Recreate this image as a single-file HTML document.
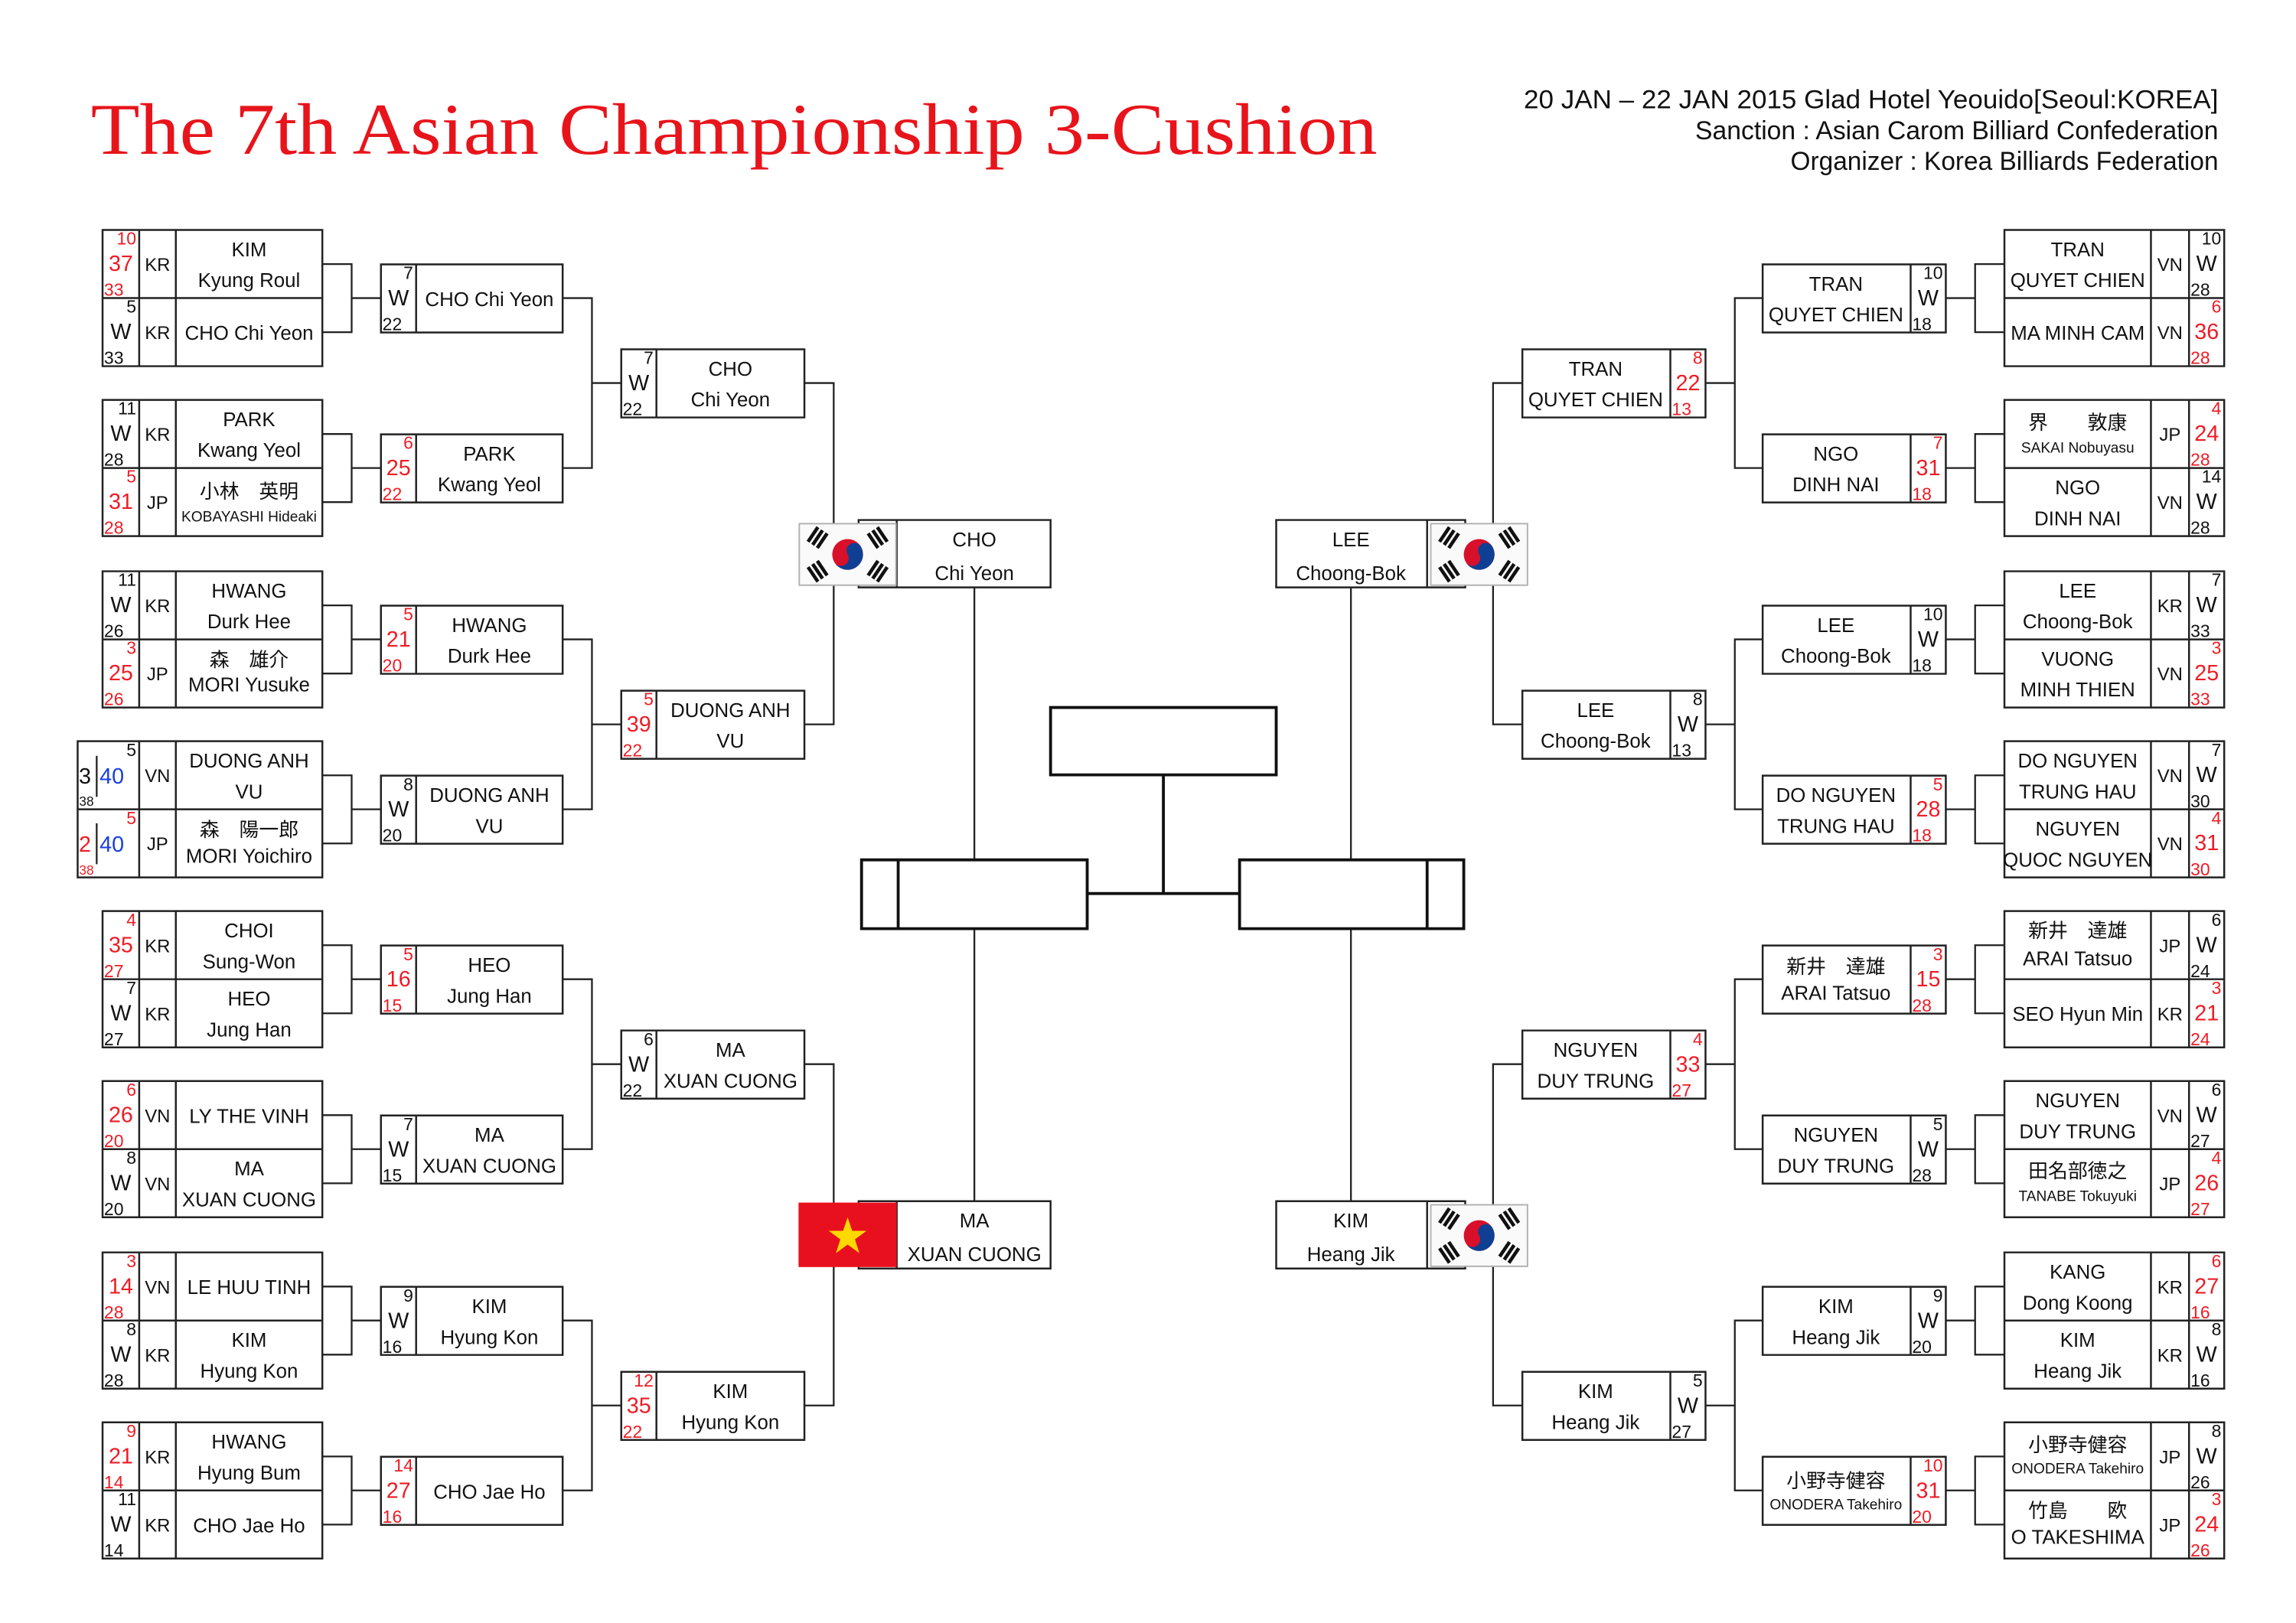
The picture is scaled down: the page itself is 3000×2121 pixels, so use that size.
<!DOCTYPE html>
<html><head><meta charset="utf-8"><style>
html,body{margin:0;padding:0;background:#fff}
svg{display:block}
text{font-family:"Liberation Sans","Noto Sans CJK JP",sans-serif;fill:#111}
.bx{fill:none;stroke:#222;stroke-width:1.3}
.ln{fill:none;stroke:#222;stroke-width:1.2}
.tk{fill:none;stroke:#111;stroke-width:2}
.tn{font-size:12px;text-anchor:end}
.mn{font-size:15px;text-anchor:middle}
.bn{font-size:12px}
.cc{font-size:12.5px;text-anchor:middle}
.nm{font-size:13.5px;text-anchor:middle}
.sm{font-size:10px;text-anchor:middle}
.red text,text.red{fill:#ee1c25}
</style></head><body>
<svg width="3000" height="2121" viewBox="0 0 1567 1108" preserveAspectRatio="none" xmlns="http://www.w3.org/2000/svg">
<defs>
<g id="kr">
<rect x="0.5" y="0.5" width="66" height="42" fill="#fafafa" stroke="#b0b0b0" stroke-width="1"/>
<g transform="translate(33.5,21.5) rotate(-30)">
<circle r="10.5" fill="#d8102a"/>
<path d="M-10.5 0A10.5 10.5 0 0 0 10.5 0A5.25 5.25 0 0 0 0 0A5.25 5.25 0 0 1 -10.5 0Z" fill="#0f3f93"/>
</g>
<g fill="#111">
<g transform="translate(13,10) rotate(-56)"><path d="M-6 -5h12v2.4h-12z M-6 -1.2h12v2.4h-12z M-6 2.6h12v2.4h-12z"/></g>
<g transform="translate(54,10) rotate(56)"><path d="M-6 -5h12v2.4h-12z M-6 -1.2h12v2.4h-12z M-6 2.6h12v2.4h-12z"/></g>
<g transform="translate(13,33) rotate(56)"><path d="M-6 -5h12v2.4h-12z M-6 -1.2h12v2.4h-12z M-6 2.6h12v2.4h-12z"/></g>
<g transform="translate(54,33) rotate(-56)"><path d="M-6 -5h12v2.4h-12z M-6 -1.2h12v2.4h-12z M-6 2.6h12v2.4h-12z"/></g>
</g>
</g>
</defs>

<!-- header -->
<text x="62" y="105" font-size="50" textLength="878" lengthAdjust="spacingAndGlyphs" style="font-family:'Liberation Serif','Noto Serif CJK SC',serif;fill:#e8141b">The 7th Asian Championship 3-Cushion</text>
<text x="1040" y="74" font-size="18" textLength="474" lengthAdjust="spacingAndGlyphs">20 JAN – 22 JAN 2015  Glad Hotel Yeouido[Seoul:KOREA]</text>
<text x="1157" y="95" font-size="18" textLength="357" lengthAdjust="spacingAndGlyphs">Sanction : Asian Carom Billiard Confederation</text>
<text x="1222" y="116" font-size="18" textLength="292" lengthAdjust="spacingAndGlyphs">Organizer : Korea Billiards Federation</text>

<!-- connectors left -->
<path class="ln" d="
M220 180.3H240V226.8H220M240 203.5H260
M220 296.3H240V342.8H220M240 319.5H260
M220 413.3H240V459.8H220M240 436.5H260
M220 529.3H240V575.8H220M240 552.5H260
M220 645.3H240V691.8H220M240 668.5H260
M220 761.3H240V807.8H220M240 784.5H260
M220 878.3H240V924.8H220M240 901.5H260
M220 994.3H240V1040.8H220M240 1017.5H260
M384 203.5H404V319.5H384M404 261.5H424
M384 436.5H404V552.5H384M404 494.5H424
M384 668.5H404V784.5H384M404 726.5H424
M384 901.5H404V1017.5H384M404 959.5H424
M549 261.5H569V494.5H549
M549 726.5H569V959.5H549
M665 401V587M665 634V820
"/>
<!-- connectors right -->
<path class="ln" d="
M1368 180.3H1348V226.8H1368M1348 203.5H1328
M1368 296.3H1348V342.8H1368M1348 319.5H1328
M1368 413.3H1348V459.8H1368M1348 436.5H1328
M1368 529.3H1348V575.8H1368M1348 552.5H1328
M1368 645.3H1348V691.8H1368M1348 668.5H1328
M1368 761.3H1348V807.8H1368M1348 784.5H1328
M1368 878.3H1348V924.8H1368M1348 901.5H1328
M1368 994.3H1348V1040.8H1368M1348 1017.5H1328
M1203 203.5H1184V319.5H1203M1184 261.5H1164
M1203 436.5H1184V552.5H1203M1184 494.5H1164
M1203 668.5H1184V784.5H1203M1184 726.5H1164
M1203 901.5H1184V1017.5H1203M1184 959.5H1164
M1039 261.5H1019V494.5H1039
M1039 726.5H1019V959.5H1039
M922 401V587M922 634V820
"/>

<!-- center -->
<path class="tk" d="M717 483H871V529H717Z M794 529V610 M742 610H846 M588 587H742V634H588Z M613 587V634 M846 587H999V634H846Z M974 587V634"/>

<!-- R4 left -->
<path class="bx" d="M586 355H717V401H586Z M612 355V401 M586 820H717V866H586Z M612 820V866"/>
<use href="#kr" x="545" y="357"/>
<text class="nm" x="665" y="373" font-size="15">CHO</text>
<text class="nm" x="665" y="396" font-size="15">Chi Yeon</text>
<rect x="545" y="821" width="67" height="44" fill="#e8101e"/>
<polygon points="578.5,831 581.6,840.3 591.4,840.3 583.5,846.1 586.5,855.5 578.5,849.7 570.5,855.5 573.5,846.1 565.6,840.3 575.4,840.3" fill="#ffd800"/>
<text class="nm" x="665" y="838" font-size="15">MA</text>
<text class="nm" x="665" y="861" font-size="15">XUAN CUONG</text>

<!-- R4 right -->
<path class="bx" d="M871 355H1000V401H871Z M974 355V401 M871 820H1000V866H871Z M974 820V866"/>
<use href="#kr" x="976" y="357"/>
<use href="#kr" x="976" y="822"/>
<text class="nm" x="922" y="373" font-size="15">LEE</text>
<text class="nm" x="922" y="396" font-size="15">Choong-Bok</text>
<text class="nm" x="922" y="838" font-size="15">KIM</text>
<text class="nm" x="922" y="861" font-size="15">Heang Jik</text>

<!-- ===== LEFT R1 ===== -->
<g transform="translate(70,157)">
<path class="bx" d="M0 0H150V93H0Z M0 46.5H150 M25 0V93 M50 0V93"/>
<g class="red"><text class="tn" x="23" y="10">10</text><text class="mn" x="12.5" y="28">37</text><text class="bn" x="1" y="45">33</text></g>
<text class="cc" x="37.5" y="28">KR</text><text class="nm" x="100" y="18">KIM</text><text class="nm" x="100" y="39">Kyung Roul</text>
<text class="tn" x="23" y="56.5">5</text><text class="mn" x="12.5" y="74.5">W</text><text class="bn" x="1" y="91.5">33</text>
<text class="cc" x="37.5" y="74.5">KR</text><text class="nm" x="100" y="75">CHO Chi Yeon</text>
</g>
<g transform="translate(70,273)">
<path class="bx" d="M0 0H150V93H0Z M0 46.5H150 M25 0V93 M50 0V93"/>
<text class="tn" x="23" y="10">11</text><text class="mn" x="12.5" y="28">W</text><text class="bn" x="1" y="45">28</text>
<text class="cc" x="37.5" y="28">KR</text><text class="nm" x="100" y="18">PARK</text><text class="nm" x="100" y="39">Kwang Yeol</text>
<g class="red"><text class="tn" x="23" y="56.5">5</text><text class="mn" x="12.5" y="74.5">31</text><text class="bn" x="1" y="91.5">28</text></g>
<text class="cc" x="37.5" y="74.5">JP</text><text class="nm" x="100" y="67">小林　英明</text><text class="sm" x="100" y="83">KOBAYASHI Hideaki</text>
</g>
<g transform="translate(70,390)">
<path class="bx" d="M0 0H150V93H0Z M0 46.5H150 M25 0V93 M50 0V93"/>
<text class="tn" x="23" y="10">11</text><text class="mn" x="12.5" y="28">W</text><text class="bn" x="1" y="45">26</text>
<text class="cc" x="37.5" y="28">KR</text><text class="nm" x="100" y="18">HWANG</text><text class="nm" x="100" y="39">Durk Hee</text>
<g class="red"><text class="tn" x="23" y="56.5">3</text><text class="mn" x="12.5" y="74.5">25</text><text class="bn" x="1" y="91.5">26</text></g>
<text class="cc" x="37.5" y="74.5">JP</text><text class="nm" x="100" y="65">森　雄介</text><text class="nm" x="100" y="82">MORI Yusuke</text>
</g>
<g transform="translate(70,506)">
<path class="bx" d="M-17 0H150V93H-17Z M-17 46.5H150 M25 0V93 M50 0V93"/>
<path class="ln" d="M-4 10V38 M-4 56V84"/>
<text class="tn" x="23" y="10">5</text><text class="mn" x="-12" y="29">3</text><text x="-2" y="29" font-size="15" style="fill:#1a3ee0">40</text><text x="-16" y="44" font-size="9">38</text>
<text class="cc" x="37.5" y="28">VN</text><text class="nm" x="100" y="18">DUONG ANH</text><text class="nm" x="100" y="39">VU</text>
<g class="red"><text class="tn" x="23" y="56.5">5</text><text class="mn" x="-12" y="75.5">2</text><text x="-16" y="91" font-size="9">38</text></g><text x="-2" y="75.5" font-size="15" style="fill:#1a3ee0">40</text>
<text class="cc" x="37.5" y="74.5">JP</text><text class="nm" x="100" y="65">森　陽一郎</text><text class="nm" x="100" y="83">MORI Yoichiro</text>
</g>
<g transform="translate(70,622)">
<path class="bx" d="M0 0H150V93H0Z M0 46.5H150 M25 0V93 M50 0V93"/>
<g class="red"><text class="tn" x="23" y="10">4</text><text class="mn" x="12.5" y="28">35</text><text class="bn" x="1" y="45">27</text></g>
<text class="cc" x="37.5" y="28">KR</text><text class="nm" x="100" y="18">CHOI</text><text class="nm" x="100" y="39">Sung-Won</text>
<text class="tn" x="23" y="56.5">7</text><text class="mn" x="12.5" y="74.5">W</text><text class="bn" x="1" y="91.5">27</text>
<text class="cc" x="37.5" y="74.5">KR</text><text class="nm" x="100" y="64.5">HEO</text><text class="nm" x="100" y="85.5">Jung Han</text>
</g>
<g transform="translate(70,738)">
<path class="bx" d="M0 0H150V93H0Z M0 46.5H150 M25 0V93 M50 0V93"/>
<g class="red"><text class="tn" x="23" y="10">6</text><text class="mn" x="12.5" y="28">26</text><text class="bn" x="1" y="45">20</text></g>
<text class="cc" x="37.5" y="28">VN</text><text class="nm" x="100" y="28.5">LY THE VINH</text>
<text class="tn" x="23" y="56.5">8</text><text class="mn" x="12.5" y="74.5">W</text><text class="bn" x="1" y="91.5">20</text>
<text class="cc" x="37.5" y="74.5">VN</text><text class="nm" x="100" y="64.5">MA</text><text class="nm" x="100" y="85.5">XUAN CUONG</text>
</g>
<g transform="translate(70,855)">
<path class="bx" d="M0 0H150V93H0Z M0 46.5H150 M25 0V93 M50 0V93"/>
<g class="red"><text class="tn" x="23" y="10">3</text><text class="mn" x="12.5" y="28">14</text><text class="bn" x="1" y="45">28</text></g>
<text class="cc" x="37.5" y="28">VN</text><text class="nm" x="100" y="28.5">LE HUU TINH</text>
<text class="tn" x="23" y="56.5">8</text><text class="mn" x="12.5" y="74.5">W</text><text class="bn" x="1" y="91.5">28</text>
<text class="cc" x="37.5" y="74.5">KR</text><text class="nm" x="100" y="64.5">KIM</text><text class="nm" x="100" y="85.5">Hyung Kon</text>
</g>
<g transform="translate(70,971)">
<path class="bx" d="M0 0H150V93H0Z M0 46.5H150 M25 0V93 M50 0V93"/>
<g class="red"><text class="tn" x="23" y="10">9</text><text class="mn" x="12.5" y="28">21</text><text class="bn" x="1" y="45">14</text></g>
<text class="cc" x="37.5" y="28">KR</text><text class="nm" x="100" y="18">HWANG</text><text class="nm" x="100" y="39">Hyung Bum</text>
<text class="tn" x="23" y="56.5">11</text><text class="mn" x="12.5" y="74.5">W</text><text class="bn" x="1" y="91.5">14</text>
<text class="cc" x="37.5" y="74.5">KR</text><text class="nm" x="100" y="75">CHO Jae Ho</text>
</g>

<!-- ===== LEFT R2 ===== -->
<g transform="translate(260,180.5)"><path class="bx" d="M0 0H124V46.5H0Z M24 0V46.5"/>
<text class="tn" x="22" y="10">7</text><text class="mn" x="12" y="28">W</text><text class="bn" x="1" y="45">22</text><text class="nm" x="74" y="28.5">CHO Chi Yeon</text></g>
<g transform="translate(260,296.5)"><path class="bx" d="M0 0H124V46.5H0Z M24 0V46.5"/>
<g class="red"><text class="tn" x="22" y="10">6</text><text class="mn" x="12" y="28">25</text><text class="bn" x="1" y="45">22</text></g><text class="nm" x="74" y="18">PARK</text><text class="nm" x="74" y="39">Kwang Yeol</text></g>
<g transform="translate(260,413.5)"><path class="bx" d="M0 0H124V46.5H0Z M24 0V46.5"/>
<g class="red"><text class="tn" x="22" y="10">5</text><text class="mn" x="12" y="28">21</text><text class="bn" x="1" y="45">20</text></g><text class="nm" x="74" y="18">HWANG</text><text class="nm" x="74" y="39">Durk Hee</text></g>
<g transform="translate(260,529.5)"><path class="bx" d="M0 0H124V46.5H0Z M24 0V46.5"/>
<text class="tn" x="22" y="10">8</text><text class="mn" x="12" y="28">W</text><text class="bn" x="1" y="45">20</text><text class="nm" x="74" y="18">DUONG ANH</text><text class="nm" x="74" y="39">VU</text></g>
<g transform="translate(260,645.5)"><path class="bx" d="M0 0H124V46.5H0Z M24 0V46.5"/>
<g class="red"><text class="tn" x="22" y="10">5</text><text class="mn" x="12" y="28">16</text><text class="bn" x="1" y="45">15</text></g><text class="nm" x="74" y="18">HEO</text><text class="nm" x="74" y="39">Jung Han</text></g>
<g transform="translate(260,761.5)"><path class="bx" d="M0 0H124V46.5H0Z M24 0V46.5"/>
<text class="tn" x="22" y="10">7</text><text class="mn" x="12" y="28">W</text><text class="bn" x="1" y="45">15</text><text class="nm" x="74" y="18">MA</text><text class="nm" x="74" y="39">XUAN CUONG</text></g>
<g transform="translate(260,878.5)"><path class="bx" d="M0 0H124V46.5H0Z M24 0V46.5"/>
<text class="tn" x="22" y="10">9</text><text class="mn" x="12" y="28">W</text><text class="bn" x="1" y="45">16</text><text class="nm" x="74" y="18">KIM</text><text class="nm" x="74" y="39">Hyung Kon</text></g>
<g transform="translate(260,994.5)"><path class="bx" d="M0 0H124V46.5H0Z M24 0V46.5"/>
<g class="red"><text class="tn" x="22" y="10">14</text><text class="mn" x="12" y="28">27</text><text class="bn" x="1" y="45">16</text></g><text class="nm" x="74" y="28.5">CHO Jae Ho</text></g>

<!-- ===== LEFT R3 ===== -->
<g transform="translate(424,238.5)"><path class="bx" d="M0 0H125V46.5H0Z M24 0V46.5"/>
<text class="tn" x="22" y="10">7</text><text class="mn" x="12" y="28">W</text><text class="bn" x="1" y="45">22</text><text class="nm" x="74.5" y="18">CHO</text><text class="nm" x="74.5" y="39">Chi Yeon</text></g>
<g transform="translate(424,471.5)"><path class="bx" d="M0 0H125V46.5H0Z M24 0V46.5"/>
<g class="red"><text class="tn" x="22" y="10">5</text><text class="mn" x="12" y="28">39</text><text class="bn" x="1" y="45">22</text></g><text class="nm" x="74.5" y="18">DUONG ANH</text><text class="nm" x="74.5" y="39">VU</text></g>
<g transform="translate(424,703.5)"><path class="bx" d="M0 0H125V46.5H0Z M24 0V46.5"/>
<text class="tn" x="22" y="10">6</text><text class="mn" x="12" y="28">W</text><text class="bn" x="1" y="45">22</text><text class="nm" x="74.5" y="18">MA</text><text class="nm" x="74.5" y="39">XUAN CUONG</text></g>
<g transform="translate(424,936.5)"><path class="bx" d="M0 0H125V46.5H0Z M24 0V46.5"/>
<g class="red"><text class="tn" x="22" y="10">12</text><text class="mn" x="12" y="28">35</text><text class="bn" x="1" y="45">22</text></g><text class="nm" x="74.5" y="18">KIM</text><text class="nm" x="74.5" y="39">Hyung Kon</text></g>

<!-- ===== RIGHT R1 ===== -->
<g transform="translate(1368,157)">
<path class="bx" d="M0 0H150V93H0Z M0 46.5H150 M100 0V93 M126 0V93"/>
<text class="tn" x="148" y="10">10</text><text class="mn" x="138" y="28">W</text><text class="bn" x="127" y="45">28</text>
<text class="cc" x="113" y="28">VN</text><text class="nm" x="50" y="18">TRAN</text><text class="nm" x="50" y="39">QUYET CHIEN</text>
<g class="red"><text class="tn" x="148" y="56.5">6</text><text class="mn" x="138" y="74.5">36</text><text class="bn" x="127" y="91.5">28</text></g>
<text class="cc" x="113" y="74.5">VN</text><text class="nm" x="50" y="75">MA MINH CAM</text>
</g>
<g transform="translate(1368,273)">
<path class="bx" d="M0 0H150V93H0Z M0 46.5H150 M100 0V93 M126 0V93"/>
<g class="red"><text class="tn" x="148" y="10">4</text><text class="mn" x="138" y="28">24</text><text class="bn" x="127" y="45">28</text></g>
<text class="cc" x="113" y="28">JP</text><text class="nm" x="50" y="20">界　　敦康</text><text class="sm" x="50" y="36" font-size="11">SAKAI Nobuyasu</text>
<text class="tn" x="148" y="56.5">14</text><text class="mn" x="138" y="74.5">W</text><text class="bn" x="127" y="91.5">28</text>
<text class="cc" x="113" y="74.5">VN</text><text class="nm" x="50" y="64.5">NGO</text><text class="nm" x="50" y="85.5">DINH NAI</text>
</g>
<g transform="translate(1368,390)">
<path class="bx" d="M0 0H150V93H0Z M0 46.5H150 M100 0V93 M126 0V93"/>
<text class="tn" x="148" y="10">7</text><text class="mn" x="138" y="28">W</text><text class="bn" x="127" y="45">33</text>
<text class="cc" x="113" y="28">KR</text><text class="nm" x="50" y="18">LEE</text><text class="nm" x="50" y="39">Choong-Bok</text>
<g class="red"><text class="tn" x="148" y="56.5">3</text><text class="mn" x="138" y="74.5">25</text><text class="bn" x="127" y="91.5">33</text></g>
<text class="cc" x="113" y="74.5">VN</text><text class="nm" x="50" y="64.5">VUONG</text><text class="nm" x="50" y="85.5">MINH THIEN</text>
</g>
<g transform="translate(1368,506)">
<path class="bx" d="M0 0H150V93H0Z M0 46.5H150 M100 0V93 M126 0V93"/>
<text class="tn" x="148" y="10">7</text><text class="mn" x="138" y="28">W</text><text class="bn" x="127" y="45">30</text>
<text class="cc" x="113" y="28">VN</text><text class="nm" x="50" y="18">DO NGUYEN</text><text class="nm" x="50" y="39">TRUNG HAU</text>
<g class="red"><text class="tn" x="148" y="56.5">4</text><text class="mn" x="138" y="74.5">31</text><text class="bn" x="127" y="91.5">30</text></g>
<text class="cc" x="113" y="74.5">VN</text><text class="nm" x="50" y="64.5">NGUYEN</text><text class="nm" x="50" y="85.5" font-size="13">QUOC NGUYEN</text>
</g>
<g transform="translate(1368,622)">
<path class="bx" d="M0 0H150V93H0Z M0 46.5H150 M100 0V93 M126 0V93"/>
<text class="tn" x="148" y="10">6</text><text class="mn" x="138" y="28">W</text><text class="bn" x="127" y="45">24</text>
<text class="cc" x="113" y="28">JP</text><text class="nm" x="50" y="18">新井　達雄</text><text class="nm" x="50" y="37">ARAI Tatsuo</text>
<g class="red"><text class="tn" x="148" y="56.5">3</text><text class="mn" x="138" y="74.5">21</text><text class="bn" x="127" y="91.5">24</text></g>
<text class="cc" x="113" y="74.5">KR</text><text class="nm" x="50" y="75">SEO Hyun Min</text>
</g>
<g transform="translate(1368,738)">
<path class="bx" d="M0 0H150V93H0Z M0 46.5H150 M100 0V93 M126 0V93"/>
<text class="tn" x="148" y="10">6</text><text class="mn" x="138" y="28">W</text><text class="bn" x="127" y="45">27</text>
<text class="cc" x="113" y="28">VN</text><text class="nm" x="50" y="18">NGUYEN</text><text class="nm" x="50" y="39">DUY TRUNG</text>
<g class="red"><text class="tn" x="148" y="56.5">4</text><text class="mn" x="138" y="74.5">26</text><text class="bn" x="127" y="91.5">27</text></g>
<text class="cc" x="113" y="74.5">JP</text><text class="nm" x="50" y="66">田名部徳之</text><text class="sm" x="50" y="82" font-size="11">TANABE Tokuyuki</text>
</g>
<g transform="translate(1368,855)">
<path class="bx" d="M0 0H150V93H0Z M0 46.5H150 M100 0V93 M126 0V93"/>
<g class="red"><text class="tn" x="148" y="10">6</text><text class="mn" x="138" y="28">27</text><text class="bn" x="127" y="45">16</text></g>
<text class="cc" x="113" y="28">KR</text><text class="nm" x="50" y="18">KANG</text><text class="nm" x="50" y="39">Dong Koong</text>
<text class="tn" x="148" y="56.5">8</text><text class="mn" x="138" y="74.5">W</text><text class="bn" x="127" y="91.5">16</text>
<text class="cc" x="113" y="74.5">KR</text><text class="nm" x="50" y="64.5">KIM</text><text class="nm" x="50" y="85.5">Heang Jik</text>
</g>
<g transform="translate(1368,971)">
<path class="bx" d="M0 0H150V93H0Z M0 46.5H150 M100 0V93 M126 0V93"/>
<text class="tn" x="148" y="10">8</text><text class="mn" x="138" y="28">W</text><text class="bn" x="127" y="45">26</text>
<text class="cc" x="113" y="28">JP</text><text class="nm" x="50" y="20">小野寺健容</text><text class="sm" x="50" y="35" font-size="9.5">ONODERA Takehiro</text>
<g class="red"><text class="tn" x="148" y="56.5">3</text><text class="mn" x="138" y="74.5">24</text><text class="bn" x="127" y="91.5">26</text></g>
<text class="cc" x="113" y="74.5">JP</text><text class="nm" x="50" y="65">竹島　　欧</text><text class="nm" x="50" y="83">O TAKESHIMA</text>
</g>

<!-- ===== RIGHT R2 ===== -->
<g transform="translate(1203,180.5)"><path class="bx" d="M0 0H125V46.5H0Z M101 0V46.5"/>
<text class="tn" x="123" y="10">10</text><text class="mn" x="113" y="28">W</text><text class="bn" x="102" y="45">18</text><text class="nm" x="50" y="18">TRAN</text><text class="nm" x="50" y="39">QUYET CHIEN</text></g>
<g transform="translate(1203,296.5)"><path class="bx" d="M0 0H125V46.5H0Z M101 0V46.5"/>
<g class="red"><text class="tn" x="123" y="10">7</text><text class="mn" x="113" y="28">31</text><text class="bn" x="102" y="45">18</text></g><text class="nm" x="50" y="18">NGO</text><text class="nm" x="50" y="39">DINH NAI</text></g>
<g transform="translate(1203,413.5)"><path class="bx" d="M0 0H125V46.5H0Z M101 0V46.5"/>
<text class="tn" x="123" y="10">10</text><text class="mn" x="113" y="28">W</text><text class="bn" x="102" y="45">18</text><text class="nm" x="50" y="18">LEE</text><text class="nm" x="50" y="39">Choong-Bok</text></g>
<g transform="translate(1203,529.5)"><path class="bx" d="M0 0H125V46.5H0Z M101 0V46.5"/>
<g class="red"><text class="tn" x="123" y="10">5</text><text class="mn" x="113" y="28">28</text><text class="bn" x="102" y="45">18</text></g><text class="nm" x="50" y="18">DO NGUYEN</text><text class="nm" x="50" y="39">TRUNG HAU</text></g>
<g transform="translate(1203,645.5)"><path class="bx" d="M0 0H125V46.5H0Z M101 0V46.5"/>
<g class="red"><text class="tn" x="123" y="10">3</text><text class="mn" x="113" y="28">15</text><text class="bn" x="102" y="45">28</text></g><text class="nm" x="50" y="19">新井　達雄</text><text class="nm" x="50" y="37">ARAI Tatsuo</text></g>
<g transform="translate(1203,761.5)"><path class="bx" d="M0 0H125V46.5H0Z M101 0V46.5"/>
<text class="tn" x="123" y="10">5</text><text class="mn" x="113" y="28">W</text><text class="bn" x="102" y="45">28</text><text class="nm" x="50" y="18">NGUYEN</text><text class="nm" x="50" y="39">DUY TRUNG</text></g>
<g transform="translate(1203,878.5)"><path class="bx" d="M0 0H125V46.5H0Z M101 0V46.5"/>
<text class="tn" x="123" y="10">9</text><text class="mn" x="113" y="28">W</text><text class="bn" x="102" y="45">20</text><text class="nm" x="50" y="18">KIM</text><text class="nm" x="50" y="39">Heang Jik</text></g>
<g transform="translate(1203,994.5)"><path class="bx" d="M0 0H125V46.5H0Z M101 0V46.5"/>
<g class="red"><text class="tn" x="123" y="10">10</text><text class="mn" x="113" y="28">31</text><text class="bn" x="102" y="45">20</text></g><text class="nm" x="50" y="21">小野寺健容</text><text class="sm" x="50" y="36" font-size="9.5">ONODERA Takehiro</text></g>

<!-- ===== RIGHT R3 ===== -->
<g transform="translate(1039,238.5)"><path class="bx" d="M0 0H125V46.5H0Z M101 0V46.5"/>
<g class="red"><text class="tn" x="123" y="10">8</text><text class="mn" x="113" y="28">22</text><text class="bn" x="102" y="45">13</text></g><text class="nm" x="50" y="18">TRAN</text><text class="nm" x="50" y="39">QUYET CHIEN</text></g>
<g transform="translate(1039,471.5)"><path class="bx" d="M0 0H125V46.5H0Z M101 0V46.5"/>
<text class="tn" x="123" y="10">8</text><text class="mn" x="113" y="28">W</text><text class="bn" x="102" y="45">13</text><text class="nm" x="50" y="18">LEE</text><text class="nm" x="50" y="39">Choong-Bok</text></g>
<g transform="translate(1039,703.5)"><path class="bx" d="M0 0H125V46.5H0Z M101 0V46.5"/>
<g class="red"><text class="tn" x="123" y="10">4</text><text class="mn" x="113" y="28">33</text><text class="bn" x="102" y="45">27</text></g><text class="nm" x="50" y="18">NGUYEN</text><text class="nm" x="50" y="39">DUY TRUNG</text></g>
<g transform="translate(1039,936.5)"><path class="bx" d="M0 0H125V46.5H0Z M101 0V46.5"/>
<text class="tn" x="123" y="10">5</text><text class="mn" x="113" y="28">W</text><text class="bn" x="102" y="45">27</text><text class="nm" x="50" y="18">KIM</text><text class="nm" x="50" y="39">Heang Jik</text></g>
</svg>
</body></html>
